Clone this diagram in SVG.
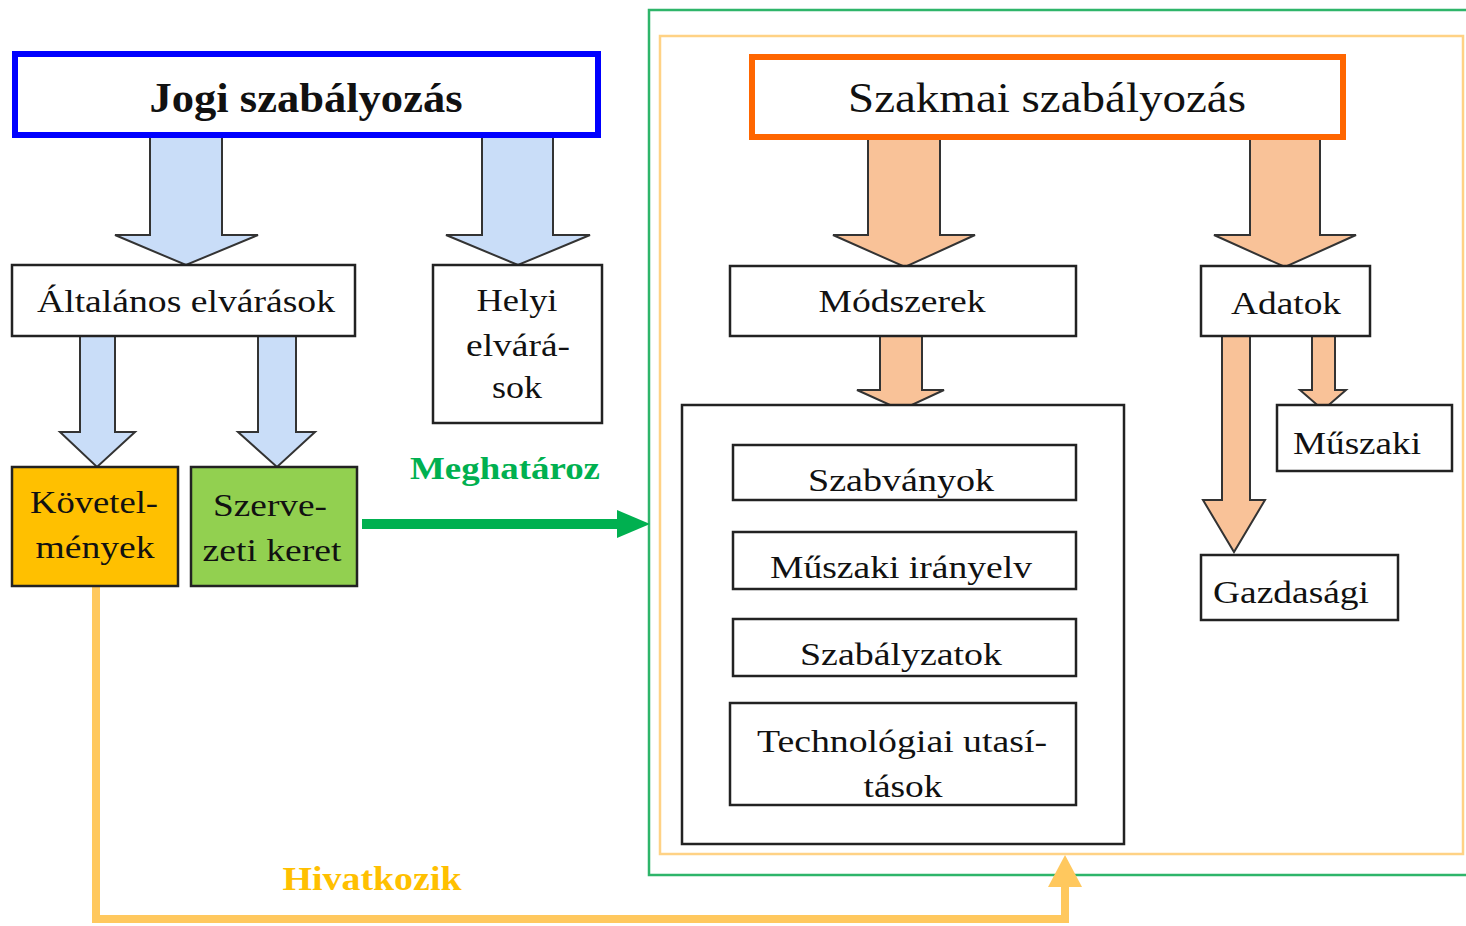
<svg xmlns="http://www.w3.org/2000/svg" width="1466" height="926" viewBox="0 0 1466 926">
<style>
text{font-family:"Liberation Serif","Times New Roman",serif;fill:#111;text-anchor:middle}
.box{fill:#fff;stroke:#222;stroke-width:2.5}
.blue{fill:#C9DDF8;stroke:#333;stroke-width:2}
.org{fill:#F9C298;stroke:#333;stroke-width:2}
.t32{font-size:32px}
.t40{font-size:42px}
</style>
<rect width="1466" height="926" fill="#fff"/>
<g id="frames">
<rect x="649" y="10" width="840" height="865" fill="none" stroke="#2EB56A" stroke-width="2.5"/>
<rect x="660" y="36" width="803" height="818" fill="none" stroke="#FFD285" stroke-width="2.5"/>
</g>
<g id="connectors">
<polygon class="blue" points="150,137 222,137 222,235 258,235 186,265 115,235 150,235"/>
<polygon class="blue" points="482,137 553,137 553,235 590,235 518,265 446,235 482,235"/>
<polygon class="blue" points="80,336 115,336 115,432 135,432 97,467 60,432 80,432"/>
<polygon class="blue" points="258,336 296,336 296,432 315,432 277,467 238,432 258,432"/>
<polygon class="org" points="868,137 940,137 940,235 975,235 905,267 833,235 868,235"/>
<polygon class="org" points="1250,137 1320,137 1320,235 1356,235 1285,267 1214,235 1250,235"/>
<polygon class="org" points="880,336 922,336 922,390 944,390 901,410 857,390 880,390"/>
<polygon class="org" points="1312,336 1335,336 1335,390 1346,390 1323,410 1300,390 1312,390"/>
<polygon class="org" points="1222,336 1250,336 1250,500 1265,500 1234,552 1203,500 1222,500"/>
<line x1="362" y1="524" x2="622" y2="524" stroke="#00B050" stroke-width="10"/>
<polygon points="617,510 650,524 617,538" fill="#00B050"/>
<text x="505" y="479" font-size="32" font-weight="bold" style="fill:#00B050" textLength="190" lengthAdjust="spacingAndGlyphs">Meghatároz</text>
<path d="M96,586 V919 H1065 V884" fill="none" stroke="#FFC85E" stroke-width="8"/>
<polygon points="1048,887 1082,887 1065,855" fill="#FFC85E"/>
<text x="372" y="890" font-size="34" font-weight="bold" style="fill:#FFC000" textLength="179" lengthAdjust="spacingAndGlyphs">Hivatkozik</text>
</g>
<g id="jogi">
<rect x="15" y="54" width="583" height="81" fill="#fff" stroke="#0000FF" stroke-width="6"/>
<text class="t40" x="306" y="112" font-weight="bold" textLength="313" lengthAdjust="spacingAndGlyphs">Jogi szabályozás</text>
</g>
<g id="altalanos">
<rect class="box" x="12" y="265" width="343" height="71"/>
<text class="t32" x="186" y="312" textLength="298" lengthAdjust="spacingAndGlyphs">Általános elvárások</text>
</g>
<g id="helyi">
<rect class="box" x="433" y="265" width="169" height="158"/>
<text class="t32" x="517" y="311" textLength="81" lengthAdjust="spacingAndGlyphs">Helyi</text>
<text class="t32" x="518" y="356" textLength="104" lengthAdjust="spacingAndGlyphs">elvárá-</text>
<text class="t32" x="517" y="398" textLength="50" lengthAdjust="spacingAndGlyphs">sok</text>
</g>
<g id="kovetelmenyek">
<rect x="12" y="467" width="166" height="119" fill="#FFC000" stroke="#222" stroke-width="2.5"/>
<text class="t32" x="94" y="513" textLength="128" lengthAdjust="spacingAndGlyphs">Követel-</text>
<text class="t32" x="95" y="558" textLength="119" lengthAdjust="spacingAndGlyphs">mények</text>
</g>
<g id="szervezeti">
<rect x="191" y="467" width="166" height="119" fill="#92D050" stroke="#222" stroke-width="2.5"/>
<text class="t32" x="270" y="516" textLength="114" lengthAdjust="spacingAndGlyphs">Szerve-</text>
<text class="t32" x="272" y="561" textLength="139" lengthAdjust="spacingAndGlyphs">zeti keret</text>
</g>
<g id="szakmai">
<rect x="752" y="57" width="591" height="80" fill="#fff" stroke="#FF6600" stroke-width="6"/>
<text class="t40" x="1047" y="112" textLength="398" lengthAdjust="spacingAndGlyphs">Szakmai szabályozás</text>
</g>
<g id="modszerek">
<rect class="box" x="730" y="266" width="346" height="70"/>
<text class="t32" x="902" y="312" textLength="167" lengthAdjust="spacingAndGlyphs">Módszerek</text>
</g>
<g id="adatok">
<rect class="box" x="1201" y="266" width="169" height="70"/>
<text class="t32" x="1286" y="314" textLength="110" lengthAdjust="spacingAndGlyphs">Adatok</text>
</g>
<g id="container">
<rect class="box" x="682" y="405" width="442" height="439"/>
</g>
<g id="szabvanyok">
<rect class="box" x="733" y="445" width="343" height="55"/>
<text class="t32" x="901" y="491" textLength="186" lengthAdjust="spacingAndGlyphs">Szabványok</text>
</g>
<g id="muszaki-iranyelv">
<rect class="box" x="733" y="532" width="343" height="57"/>
<text class="t32" x="901" y="578" textLength="262" lengthAdjust="spacingAndGlyphs">Műszaki irányelv</text>
</g>
<g id="szabalyzatok">
<rect class="box" x="733" y="619" width="343" height="57"/>
<text class="t32" x="901" y="665" textLength="202" lengthAdjust="spacingAndGlyphs">Szabályzatok</text>
</g>
<g id="technologiai">
<rect class="box" x="730" y="703" width="346" height="102"/>
<text class="t32" x="902" y="752" textLength="290" lengthAdjust="spacingAndGlyphs">Technológiai utasí-</text>
<text class="t32" x="903" y="797" textLength="79" lengthAdjust="spacingAndGlyphs">tások</text>
</g>
<g id="muszaki">
<rect class="box" x="1277" y="405" width="175" height="66"/>
<text class="t32" x="1357" y="454" textLength="128" lengthAdjust="spacingAndGlyphs">Műszaki</text>
</g>
<g id="gazdasagi">
<rect class="box" x="1201" y="555" width="197" height="65"/>
<text class="t32" x="1291" y="603" textLength="156" lengthAdjust="spacingAndGlyphs">Gazdasági</text>
</g>
</svg>
